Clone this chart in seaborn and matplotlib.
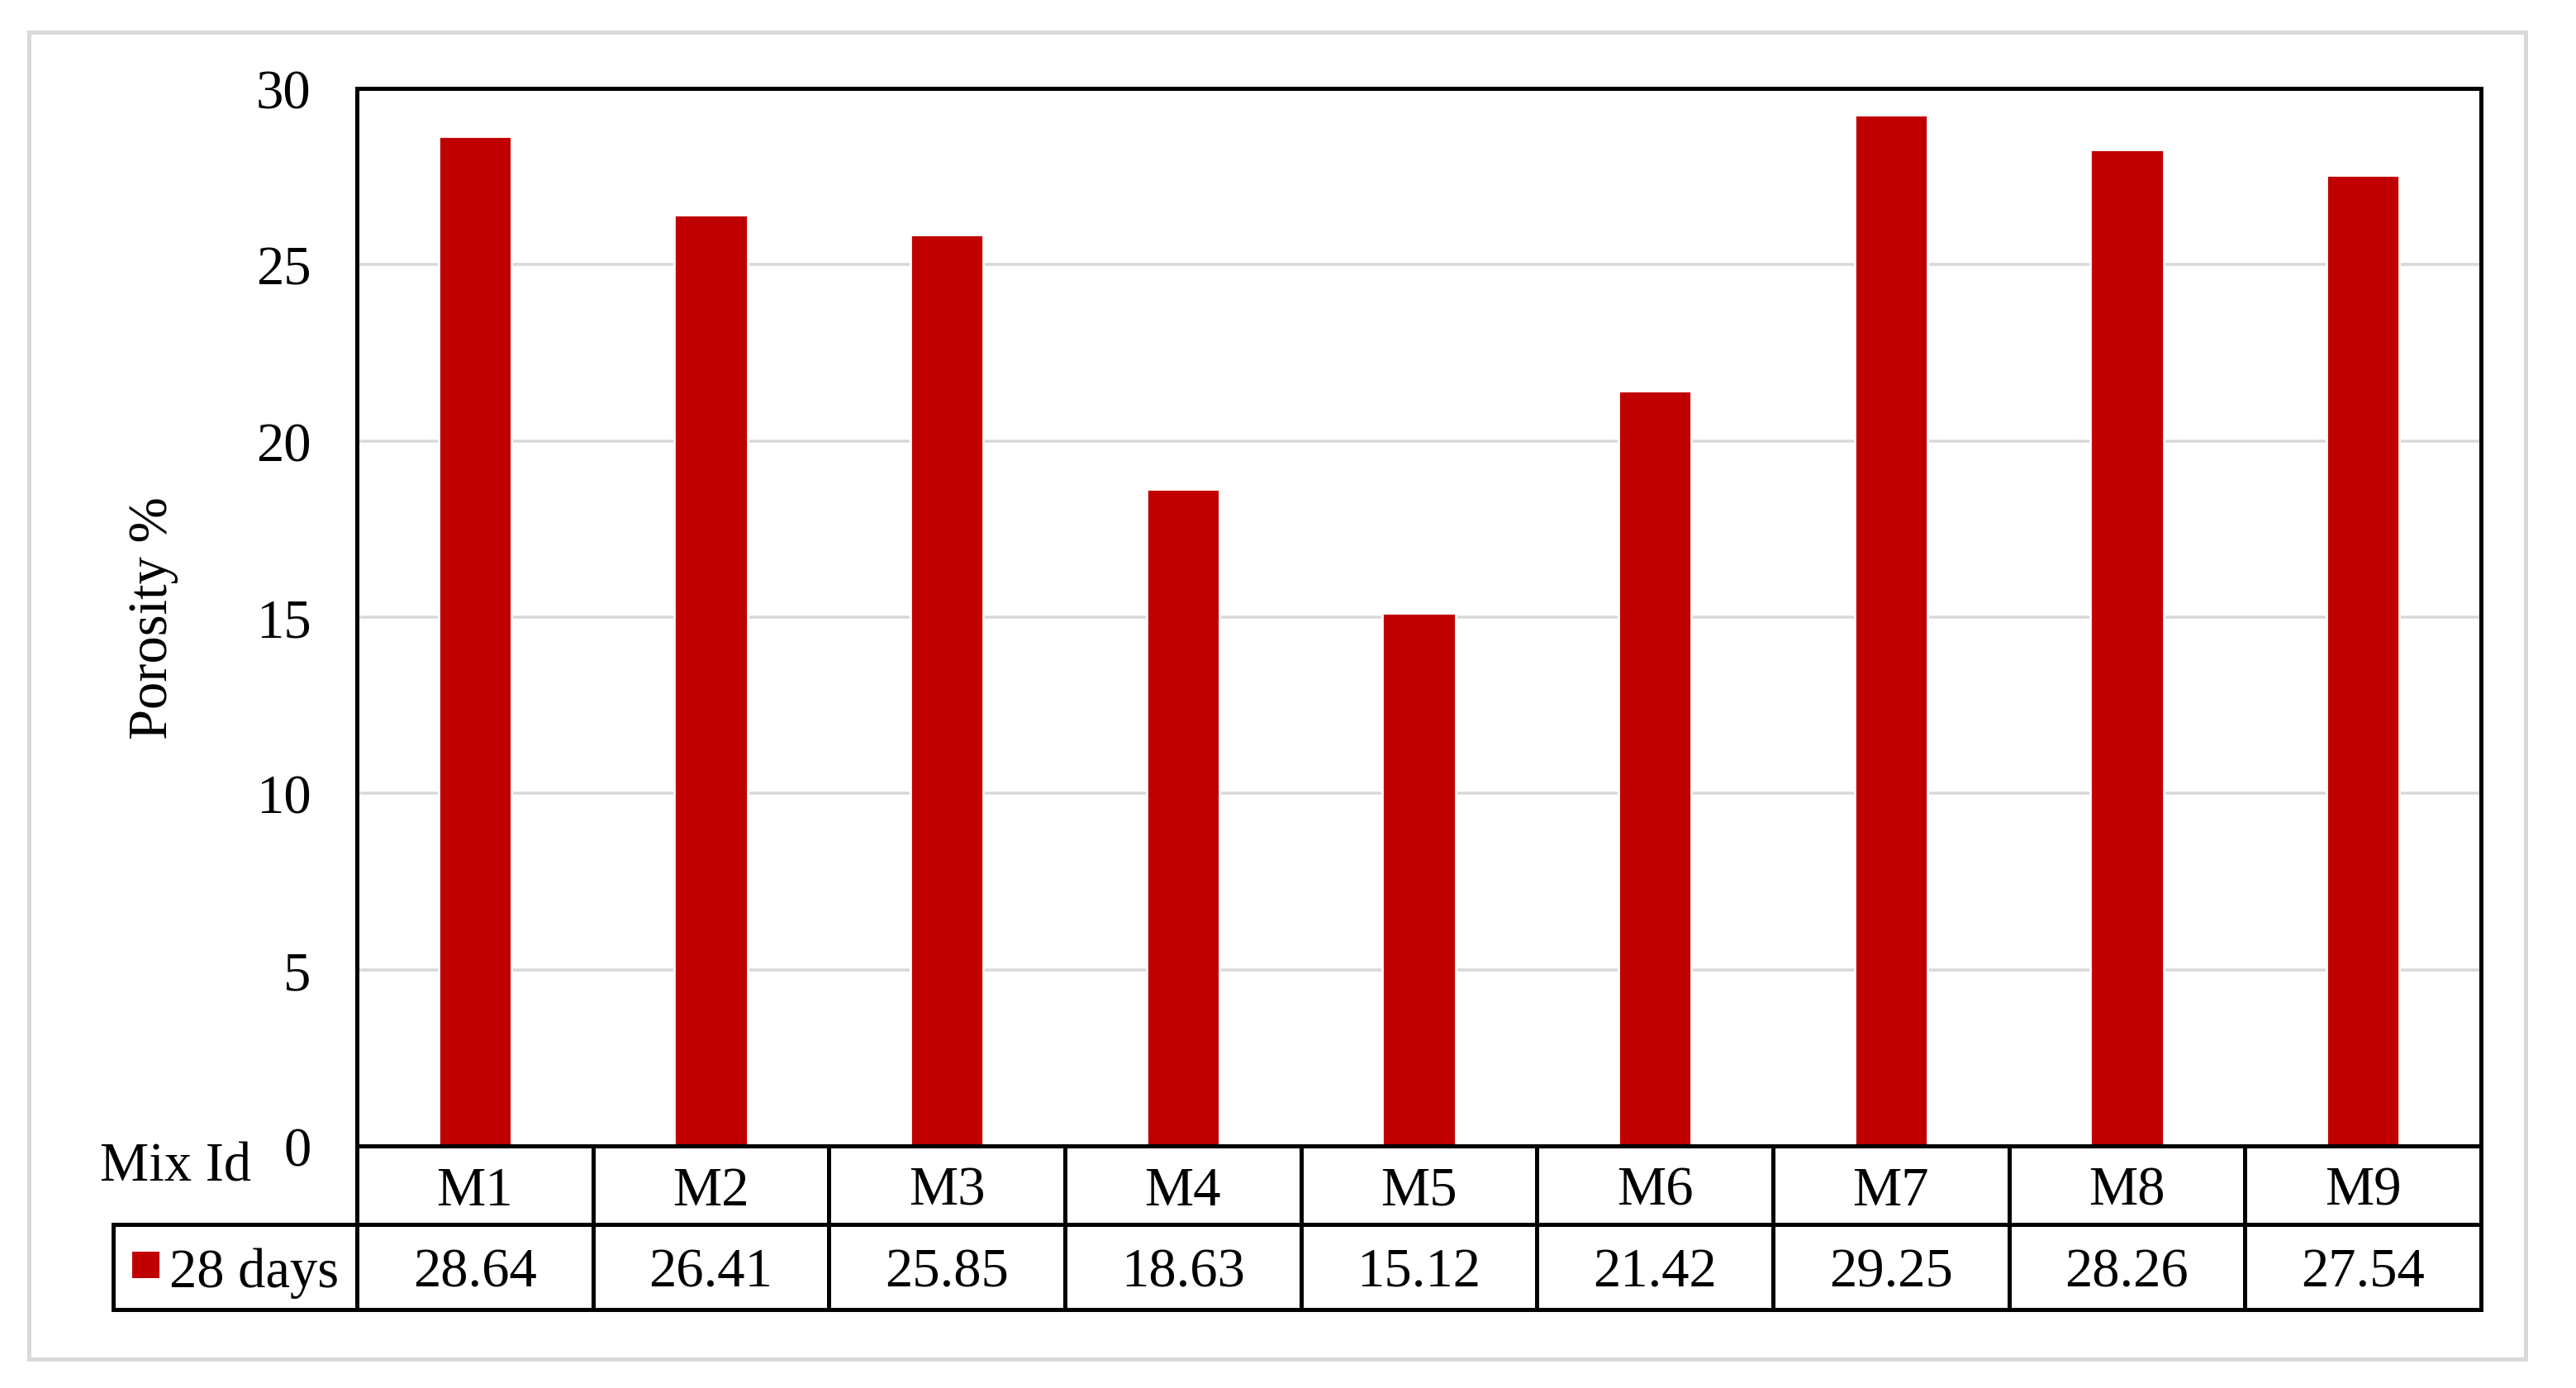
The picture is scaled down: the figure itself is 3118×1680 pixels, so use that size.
import matplotlib
matplotlib.use("Agg")
import matplotlib.pyplot as plt
import matplotlib.transforms as mtransforms
from matplotlib.patches import Rectangle
import seaborn as sns

# data
mixes = ["M1", "M2", "M3", "M4", "M5", "M6", "M7", "M8", "M9"]
porosity = [28.64, 26.41, 25.85, 18.63, 15.12, 21.42, 29.25, 28.26, 27.54]
series_name = "28 days"
y_ticks = [0, 5, 10, 15, 20, 25, 30]

bar_color = "#C00000"
grid_color = "#D9D9D9"

sns.set_theme(style="white")
plt.rcParams["font.family"] = ["Liberation Serif", "DejaVu Serif"]

W, H, DPI = 3118, 1681, 200
fig = plt.figure(figsize=(W / DPI, H / DPI), dpi=DPI)
fig.patch.set_facecolor("white")

# plot area in pixels
left_px, right_px, top_px, bottom_px = 432, 3003, 108, 1388
ax = fig.add_axes([left_px / W, 1 - bottom_px / H,
                   (right_px - left_px) / W, (bottom_px - top_px) / H])

sns.barplot(x=mixes, y=porosity, color=bar_color, width=0.31,
            saturation=1, ax=ax)
ax.set_xlim(-0.5, len(mixes) - 0.5)
ax.set_ylim(0, 30)
ax.set_yticks(y_ticks)
ax.set_yticklabels([str(t) for t in y_ticks])
ax.set_xticks([])
ax.set_xlabel("")
ax.tick_params(axis="y", length=0, pad=20, labelsize=24, colors="black")
ax.yaxis.grid(True, color=grid_color, linewidth=1.3)
ax.set_axisbelow(True)
for s in ax.spines.values():
    s.set_visible(True)
    s.set_color("black")
    s.set_linewidth(1.8)

ax.set_ylabel("Porosity %", fontsize=24, color="black")
ax.yaxis.set_label_coords(-0.084, 0.5)

# data table below the plot
ax_h = bottom_px - top_px
ax_w = right_px - left_px
row1 = -95 / ax_h
row2 = -198 / ax_h
leg_left = (137 - left_px) / ax_w
trans = mtransforms.blended_transform_factory(ax.transData, ax.transAxes)
lw = 1.8

ax.plot([-0.5, len(mixes) - 0.5], [row1, row1], transform=trans,
        color="black", lw=lw, clip_on=False, solid_capstyle="projecting")
ax.plot([leg_left, 1], [row1, row1], transform=ax.transAxes,
        color="black", lw=lw, clip_on=False, solid_capstyle="projecting")
ax.plot([leg_left, 1], [row2, row2], transform=ax.transAxes,
        color="black", lw=lw, clip_on=False, solid_capstyle="projecting")
ax.plot([leg_left, leg_left], [row1, row2], transform=ax.transAxes,
        color="black", lw=lw, clip_on=False, solid_capstyle="projecting")
for i in range(len(mixes) + 1):
    ax.plot([i - 0.5, i - 0.5], [0, row2], transform=trans,
            color="black", lw=lw, clip_on=False, solid_capstyle="projecting")

for i, (m, v) in enumerate(zip(mixes, porosity)):
    ax.text(i, row1 / 2, m, transform=trans, ha="center", va="center_baseline",
            fontsize=24, color="black")
    ax.text(i, (row1 + row2) / 2, f"{v:.2f}", transform=trans, ha="center",
            va="center_baseline", fontsize=24, color="black")

ax.text((121 - left_px) / ax_w, -42 / ax_h, "Mix Id", transform=ax.transAxes,
        ha="left", va="baseline", fontsize=24, color="black")

# legend key in the table
ax.add_patch(Rectangle(((160 - left_px) / ax_w, -160 / ax_h), 33 / ax_w, 32 / ax_h,
                       transform=ax.transAxes, facecolor=bar_color,
                       edgecolor="none", clip_on=False))
ax.text((205 - left_px) / ax_w, (row1 + row2) / 2, series_name,
        transform=ax.transAxes, ha="left", va="center_baseline",
        fontsize=24, color="black")

# outer chart border
fig.patches.append(Rectangle((35 / W, 1 - 1646 / H), (3057 - 35) / W,
                             (1646 - 40) / H, transform=fig.transFigure,
                             facecolor="none", edgecolor=grid_color,
                             linewidth=1.8))

fig.savefig("out.png", dpi=DPI, facecolor="white")
